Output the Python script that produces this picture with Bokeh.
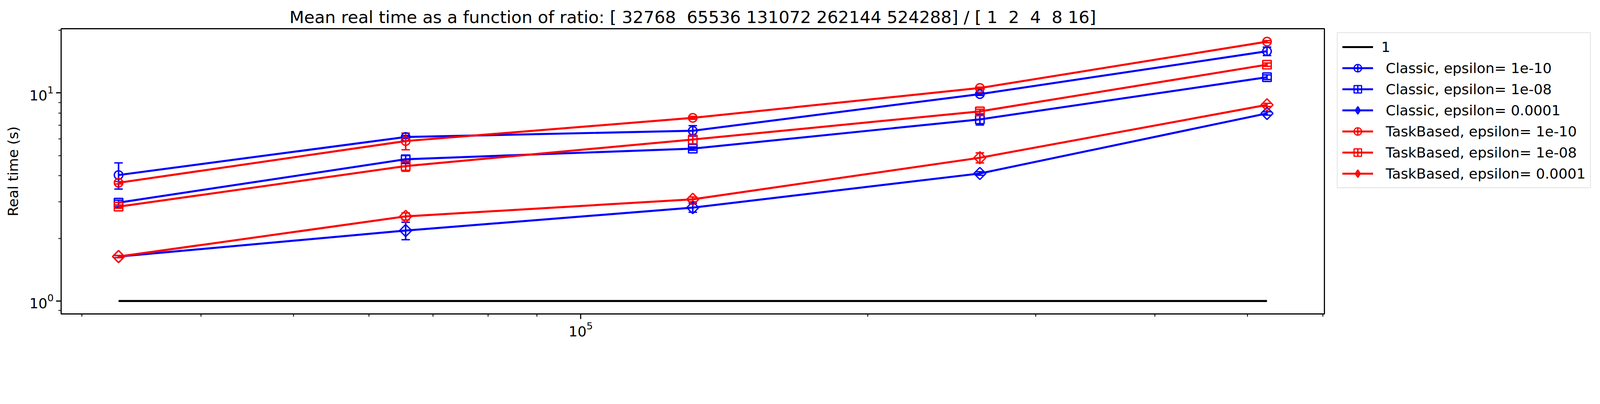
import math

from bokeh.embed import file_html
from bokeh.models import (ColumnDataSource, FixedTicker, Legend, LegendItem,
                          LogTickFormatter, Range1d, TeeHead, Whisker)
from bokeh.plotting import figure
from bokeh.resources import INLINE

sizes = [32768, 65536, 131072, 262144, 524288]
ratios = [1, 2, 4, 8, 16]

classic_1e10 = [4.03, 6.14, 6.58, 9.87, 15.86]
classic_1e10_err = [0.58, 0.10, 0.38, 0.15, 0.75]
classic_1e08 = [2.97, 4.80, 5.40, 7.46, 11.90]
classic_1e08_err = [0.08, 0.20, 0.10, 0.45, 0.30]
classic_1e04 = [1.635, 2.18, 2.81, 4.10, 7.97]
classic_1e04_err = [0.02, 0.21, 0.14, 0.08, 0.15]

task_1e10 = [3.70, 5.87, 7.59, 10.56, 17.63]
task_1e10_err = [0.05, 0.54, 0.12, 0.10, 0.20]
task_1e08 = [2.84, 4.45, 5.97, 8.15, 13.67]
task_1e08_err = [0.05, 0.25, 0.30, 0.20, 0.25]
task_1e04 = [1.635, 2.55, 3.08, 4.88, 8.76]
task_1e04_err = [0.02, 0.10, 0.08, 0.27, 0.15]

ones = [1, 1, 1, 1, 1]

series = [
    (" Classic, epsilon= 1e-10", classic_1e10, classic_1e10_err, "blue", "o"),
    (" Classic, epsilon= 1e-08", classic_1e08, classic_1e08_err, "blue", "s"),
    (" Classic, epsilon= 0.0001", classic_1e04, classic_1e04_err, "blue", "D"),
    (" TaskBased, epsilon= 1e-10", task_1e10, task_1e10_err, "red", "o"),
    (" TaskBased, epsilon= 1e-08", task_1e08, task_1e08_err, "red", "s"),
    (" TaskBased, epsilon= 0.0001", task_1e04, task_1e04_err, "red", "D"),
]

FONT = "DejaVu Sans"

# the page is shown at 4096 css px across 4710 image px
S = 4096 / 4710


def px(v):
    return v * S


def fpx(v):
    return "%.1fpx" % (v * S)


def fmt_arr(vals):
    # numpy-like array print, keeping the doubled spaces visible in svg
    w = max(len(str(v)) for v in vals)
    return "[" + " ".join(str(v).rjust(w) for v in vals).replace("  ", " \u00a0") + "]"


def log_pad(lo, hi, frac=0.05):
    a, b = math.log10(lo), math.log10(hi)
    d = (b - a) * frac
    return 10 ** (a - d), 10 ** (b + d)


all_y = ones + [v for s in series for v in s[1]]
xlo, xhi = log_pad(min(sizes), max(sizes))
ylo, yhi = log_pad(min(all_y), max(all_y))

title = "Mean real time as a function of ratio: %s / %s" % (fmt_arr(sizes), fmt_arr(ratios))

p = figure(frame_width=3234, frame_height=730, x_axis_type="log", y_axis_type="log",
           x_range=Range1d(xlo, xhi), y_range=Range1d(ylo, yhi),
           title=title, output_backend="svg", toolbar_location=None,
           min_border_left=156, min_border_right=690, min_border_top=73,
           min_border_bottom=80)

p.background_fill_color = "white"
p.border_fill_color = "white"
p.outline_line_color = "black"
p.outline_line_width = px(3.3)
p.xgrid.visible = False
p.ygrid.visible = False

p.title.text_font = FONT
p.title.text_font_size = fpx(50)
p.title.text_font_style = "normal"
p.title.text_color = "black"
p.title.align = "center"

for ax in (p.xaxis[0], p.yaxis[0]):
    ax.axis_line_color = None
    ax.major_tick_in = 0
    ax.major_tick_out = int(px(15))
    ax.minor_tick_in = 0
    ax.minor_tick_out = int(px(8.5))
    ax.major_tick_line_width = px(3.3)
    ax.minor_tick_line_width = px(2.5)
    ax.major_tick_line_color = "black"
    ax.minor_tick_line_color = "black"
    ax.major_label_text_font = FONT
    ax.major_label_text_font_size = fpx(41.7)
    ax.major_label_text_color = "black"
    ax.major_label_standoff = int(px(8))
    ax.formatter = LogTickFormatter()

p.xaxis[0].ticker = FixedTicker(
    ticks=[1e5],
    minor_ticks=[3e4, 4e4, 5e4, 6e4, 7e4, 8e4, 9e4, 2e5, 3e5, 4e5, 5e5, 6e5])
p.yaxis[0].ticker = FixedTicker(
    ticks=[1, 10],
    minor_ticks=[0.9, 2, 3, 4, 5, 6, 7, 8, 9, 20])

p.yaxis[0].axis_label = "Real time (s)"
p.yaxis[0].axis_label_text_font = FONT
p.yaxis[0].axis_label_text_font_size = fpx(41.7)
p.yaxis[0].axis_label_text_font_style = "normal"
p.yaxis[0].axis_label_text_color = "black"
p.yaxis[0].axis_label_standoff = int(px(20))

items = []

one_line = p.line(sizes, ones, line_color="black", line_width=px(6))
items.append(LegendItem(label="1", renderers=[one_line]))

legend_marker = {"o": "circle", "s": "square", "D": "diamond"}
nothing = dict(x=[float("nan")], y=[float("nan")])

for label, vals, errs, color, mk in series:
    src = ColumnDataSource(dict(
        x=sizes, y=vals,
        upper=[v + e for v, e in zip(vals, errs)],
        lower=[v - e for v, e in zip(vals, errs)],
    ))
    w = Whisker(base="x", upper="upper", lower="lower", source=src,
                dimension="height", line_color=color, line_width=px(4.5),
                upper_head=TeeHead(size=px(25), line_color=color, line_width=px(4)),
                lower_head=TeeHead(size=px(25), line_color=color, line_width=px(4)))
    p.add_layout(w)
    ln = p.line("x", "y", source=src, line_color=color, line_width=px(6))
    if mk == "D":
        p.scatter("x", "y", source=src, marker="square", size=px(25), angle=math.pi / 4,
                  fill_color=None, line_color=color, line_width=px(4))
    else:
        p.scatter("x", "y", source=src, marker=legend_marker[mk], size=px(25),
                  fill_color=None, line_color=color, line_width=px(4))
    # legend-only glyphs (no visible points): marker and the vertical error bar
    lm = p.scatter("x", "y", source=ColumnDataSource(nothing),
                   marker=legend_marker[mk], fill_color=None,
                   line_color=color, line_width=px(3.5))
    lc = p.scatter("x", "y", source=ColumnDataSource(nothing),
                   marker="cross", line_color=color, line_width=px(4))
    items.append(LegendItem(label=label, renderers=[ln, lm, lc]))

legend = Legend(items=items, location=(32, 321),
                label_text_font=FONT, label_text_font_size=fpx(41.7),
                label_text_color="black", glyph_width=int(px(91)),
                glyph_height=int(px(56)), label_height=int(px(56)),
                spacing=int(px(7)), padding=11,
                label_standoff=int(px(25)), margin=0,
                border_line_color="#d6d6d6", border_line_width=px(4),
                background_fill_color="white", background_fill_alpha=1)
p.add_layout(legend, "right")

open("out.html", "w").write(file_html(p, INLINE))
